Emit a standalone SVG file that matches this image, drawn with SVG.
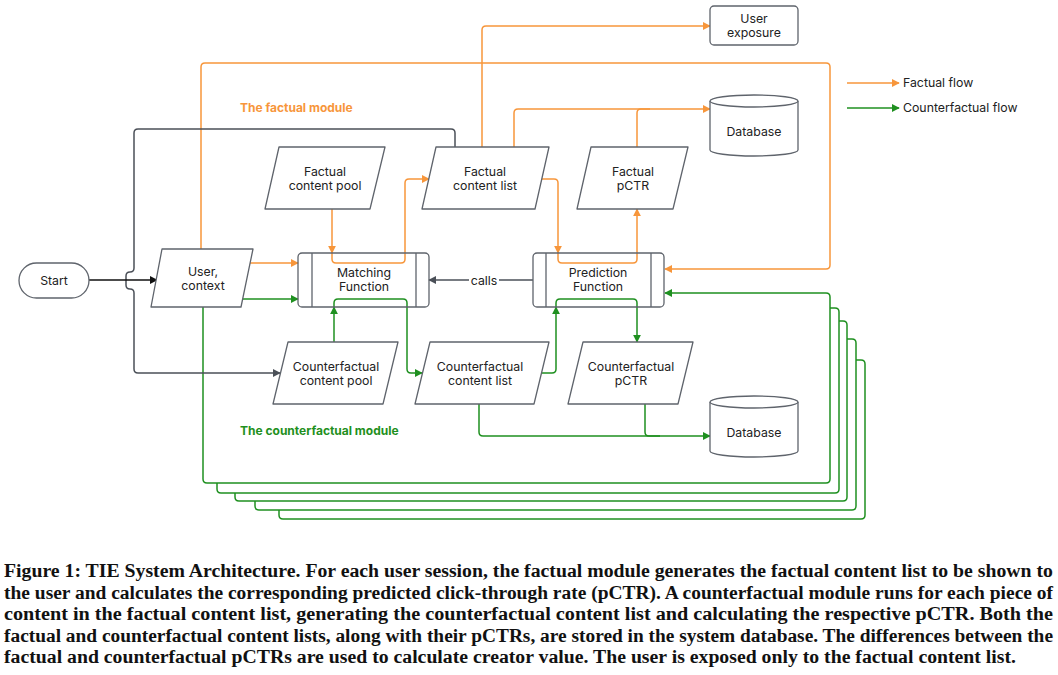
<svg xmlns="http://www.w3.org/2000/svg" width="1058" height="675" viewBox="0 0 1058 675">
<style>
.node{fill:#fff;stroke:#5f646c;stroke-width:1.3;stroke-linejoin:round}
.t{font-family:Inter,"Noto Sans","Liberation Sans",sans-serif;font-size:12.3px;fill:#222;text-anchor:middle}
.lg{font-family:Inter,"Noto Sans","Liberation Sans",sans-serif;font-size:12.3px;fill:#222}
.or{fill:none;stroke:#F7963B;stroke-width:1.5;stroke-linejoin:round}
.gr{fill:none;stroke:#1F9020;stroke-width:1.5;stroke-linejoin:round}
.dk{fill:none;stroke:#4b5058;stroke-width:1.5;stroke-linejoin:round}
.cap{font-family:"Liberation Serif","DejaVu Serif",serif;font-size:18px;font-weight:bold;fill:#111}
</style>
<defs>
<marker id="ao" viewBox="0 0 10 10" refX="9" refY="5" markerWidth="8" markerHeight="8" markerUnits="userSpaceOnUse" orient="auto"><path d="M0,0 L10,5 L0,10 z" fill="#F7963B"/></marker>
<marker id="ag" viewBox="0 0 10 10" refX="9" refY="5" markerWidth="8" markerHeight="8" markerUnits="userSpaceOnUse" orient="auto"><path d="M0,0 L10,5 L0,10 z" fill="#1F9020"/></marker>
<marker id="ad" viewBox="0 0 10 10" refX="9" refY="5" markerWidth="8" markerHeight="8" markerUnits="userSpaceOnUse" orient="auto"><path d="M0,0 L10,5 L0,10 z" fill="#4b5058"/></marker>
<marker id="ab" viewBox="0 0 10 10" refX="9" refY="5" markerWidth="8" markerHeight="8" markerUnits="userSpaceOnUse" orient="auto"><path d="M0,0 L10,5 L0,10 z" fill="#111"/></marker>
</defs>
<rect width="1058" height="675" fill="#fff"/>

<g id="connectors">
<!-- green stacked copies -->
<path class="gr" d="M279,510 V515 Q279,519 283,519 H861 Q865,519 865,515 V364 Q865,360 861,360 H856"/>
<path class="gr" d="M255,501 V506 Q255,510 259,510 H852 Q856,510 856,506 V343 Q856,339 852,339 H847"/>
<path class="gr" d="M235,493 V497 Q235,501 239,501 H843 Q847,501 847,497 V325 Q847,321 843,321 H839"/>
<path class="gr" d="M217,483 V489 Q217,493 221,493 H835 Q839,493 839,489 V312 Q839,308 835,308 H830"/>
<path class="gr" d="M203,307 V479 Q203,483 207,483 H826 Q830,483 830,479 V297 Q830,293 826,293 H665" marker-end="url(#ag)"/>
<!-- orange -->
<path class="or" d="M201,249 V67 Q201,63 205,63 H826 Q830,63 830,67 V265 Q830,269 826,269 H665" marker-end="url(#ao)"/>
<path class="or" d="M482,148 V30 Q482,26 486,26 H710" marker-end="url(#ao)"/>
<path class="or" d="M514,148 V113 Q514,109 518,109 H710" marker-end="url(#ao)"/>
<path class="or" d="M637,148 V113 Q637,109 641,109 H650"/>
<path class="or" d="M332,209 V253" marker-end="url(#ao)"/>
<path class="or" d="M332,253 V259 Q332,263 336,263 H401 Q405,263 405,259 V183 Q405,179 409,179 H429" marker-end="url(#ao)"/>
<path class="or" d="M250,263 H298" marker-end="url(#ao)"/>
<path class="or" d="M542,179 H554 Q558,179 558,183 V253" marker-end="url(#ao)"/>
<path class="or" d="M558,253 V259 Q558,263 562,263 H633 Q637,263 637,259 V209" marker-end="url(#ao)"/>
<path class="or" d="M847,83 H899" marker-end="url(#ao)"/>
<!-- green -->
<path class="gr" d="M243,299 H298" marker-end="url(#ag)"/>
<path class="gr" d="M334,342 V307" marker-end="url(#ag)"/>
<path class="gr" d="M334,307 V303 Q334,299 338,299 H403 Q407,299 407,303 V369 Q407,373 411,373 H422" marker-end="url(#ag)"/>
<path class="gr" d="M541,373 H552 Q556,373 556,369 V307" marker-end="url(#ag)"/>
<path class="gr" d="M556,307 V303 Q556,299 560,299 H633 Q637,299 637,303 V342" marker-end="url(#ag)"/>
<path class="gr" d="M479,404 V432 Q479,436 483,436 H710" marker-end="url(#ag)"/>
<path class="gr" d="M645,404 V432 Q645,436 649,436 H660"/>
<path class="gr" d="M847,108 H899" marker-end="url(#ag)"/>
<!-- dark -->
<path class="dk" d="M455,148 V133 Q455,129 451,129 H138 Q134,129 134,133 V268 Q134,272 130,272 Q126,272 126,276 V285 Q126,289 130,289 Q134,289 134,293 V369 Q134,373 138,373 H280" marker-end="url(#ad)"/>
<path d="M89,280 H157" fill="none" stroke="#111" stroke-width="1.5" marker-end="url(#ab)"/>
<path class="dk" d="M533,280 H429" marker-end="url(#ad)"/>
<rect x="469" y="272" width="30" height="15" fill="#fff"/>
<text class="t" x="484" y="284.5">calls</text>
</g>

<g id="start">
<rect class="node" x="19" y="263" width="70" height="35" rx="17.5"/>
<text class="t" x="54" y="285">Start</text>
</g>
<g id="user-context">
<path class="node" d="M162,249 H253 L241,307 H151 Z"/>
<text class="t" x="203" y="276">User,</text>
<text class="t" x="203" y="290">context</text>
</g>
<g id="matching">
<rect class="node" x="298" y="253" width="131" height="54" rx="4" style="fill:none"/>
<line class="node" x1="312" y1="253" x2="312" y2="307"/>
<line class="node" x1="416" y1="253" x2="416" y2="307"/>
<text class="t" x="364" y="277">Matching</text>
<text class="t" x="364" y="291">Function</text>
</g>
<g id="prediction">
<rect class="node" x="533" y="253" width="131" height="54" rx="4" style="fill:none"/>
<line class="node" x1="546" y1="253" x2="546" y2="307"/>
<line class="node" x1="651" y1="253" x2="651" y2="307"/>
<text class="t" x="598" y="277">Prediction</text>
<text class="t" x="598" y="291">Function</text>
</g>
<g id="factual-pool">
<path class="node" d="M279,147 H385 L370,209 H265 Z"/>
<text class="t" x="325" y="176">Factual</text>
<text class="t" x="325" y="190">content pool</text>
</g>
<g id="factual-list">
<path class="node" d="M436,147 H549 L535,209 H422 Z"/>
<text class="t" x="485" y="176">Factual</text>
<text class="t" x="485" y="190">content list</text>
</g>
<g id="factual-pctr">
<path class="node" d="M591,147 H688 L673,209 H577 Z"/>
<text class="t" x="633" y="176">Factual</text>
<text class="t" x="633" y="190">pCTR</text>
</g>
<g id="cf-pool">
<path class="node" d="M288,342 H398 L383,404 H273 Z"/>
<text class="t" x="336" y="371">Counterfactual</text>
<text class="t" x="336" y="385">content pool</text>
</g>
<g id="cf-list">
<path class="node" d="M430,342 H549 L534,404 H415 Z"/>
<text class="t" x="480" y="371">Counterfactual</text>
<text class="t" x="480" y="385">content list</text>
</g>
<g id="cf-pctr">
<path class="node" d="M583,342 H693 L678,404 H568 Z"/>
<text class="t" x="631" y="371">Counterfactual</text>
<text class="t" x="631" y="385">pCTR</text>
</g>
<g id="user-exposure">
<rect class="node" x="710" y="6" width="88" height="39" rx="4"/>
<text class="t" x="754" y="23">User</text>
<text class="t" x="754" y="37">exposure</text>
</g>
<g id="database1">
<path class="node" d="M710,101 V150 A44,6 0 0 0 798,150 V101"/>
<ellipse class="node" cx="754" cy="101" rx="44" ry="6"/>
<text class="t" x="754" y="136">Database</text>
</g>
<g id="database2">
<path class="node" d="M710,402 V451 A44,6 0 0 0 798,451 V402"/>
<ellipse class="node" cx="754" cy="402" rx="44" ry="6"/>
<text class="t" x="754" y="437">Database</text>
</g>
<g id="labels">
<text x="240" y="112" style="font-family:Inter,'Noto Sans',sans-serif;font-size:12px;font-weight:bold;fill:#F7963B">The factual module</text>
<text x="240" y="435" style="font-family:Inter,'Noto Sans',sans-serif;font-size:12px;font-weight:bold;fill:#1F9020">The counterfactual module</text>
<text class="lg" x="903" y="87">Factual flow</text>
<text class="lg" x="903" y="112">Counterfactual flow</text>
</g>
<g id="caption">
<text class="cap" x="4" y="577" textLength="1049" lengthAdjust="spacingAndGlyphs">Figure 1: TIE System Architecture. For each user session, the factual module generates the factual content list to be shown to</text>
<text class="cap" x="4" y="598.5" textLength="1049" lengthAdjust="spacingAndGlyphs">the user and calculates the corresponding predicted click-through rate (pCTR). A counterfactual module runs for each piece of</text>
<text class="cap" x="4" y="620" textLength="1049" lengthAdjust="spacingAndGlyphs">content in the factual content list, generating the counterfactual content list and calculating the respective pCTR. Both the</text>
<text class="cap" x="4" y="641.5" textLength="1049" lengthAdjust="spacingAndGlyphs">factual and counterfactual content lists, along with their pCTRs, are stored in the system database. The differences between the</text>
<text class="cap" x="4" y="663" textLength="1012" lengthAdjust="spacingAndGlyphs">factual and counterfactual pCTRs are used to calculate creator value. The user is exposed only to the factual content list.</text>
</g>
</svg>
